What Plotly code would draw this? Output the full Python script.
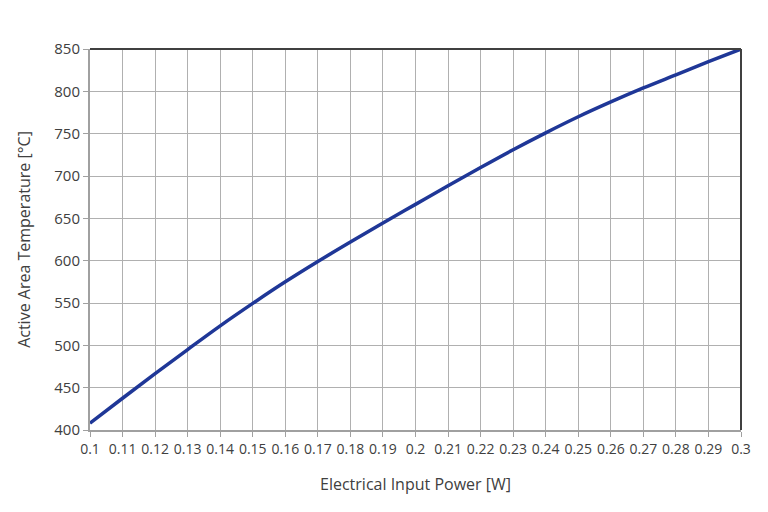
import plotly.graph_objects as go

power_w = [0.10, 0.11, 0.12, 0.13, 0.14, 0.15, 0.16, 0.17, 0.18, 0.19, 0.20,
           0.21, 0.22, 0.23, 0.24, 0.25, 0.26, 0.27, 0.28, 0.29, 0.30]
temp_c = [408, 437.5, 466.5, 495, 523, 549.5, 575, 599, 622, 644.5, 666.5,
          688.5, 710, 731, 751, 770, 787.5, 804, 819.5, 835, 850]
x_ticks = [round(0.1 + 0.01 * i, 2) for i in range(21)]
x_labels = ['0.1', '0.11', '0.12', '0.13', '0.14', '0.15', '0.16', '0.17', '0.18', '0.19', '0.2',
            '0.21', '0.22', '0.23', '0.24', '0.25', '0.26', '0.27', '0.28', '0.29', '0.3']
y_ticks = [400, 450, 500, 550, 600, 650, 700, 750, 800, 850]

font = 'Open Sans, Noto Sans, sans-serif'

fig = go.Figure()
fig.add_trace(go.Scatter(x=power_w, y=temp_c, mode='lines',
                         line=dict(color='#1f3797', width=3.5, shape='spline'),
                         showlegend=False, cliponaxis=False))

fig.update_layout(
    width=768, height=512,
    margin=dict(l=82, r=35, t=41, b=90),
    paper_bgcolor='white', plot_bgcolor='white',
    font=dict(family=font, size=13, color='#404040'),
)
fig.update_xaxes(
    range=[0.1, 0.3], tickvals=x_ticks, ticktext=x_labels,
    showgrid=True, gridcolor='#b0b0b0', gridwidth=1,
    showline=True, linecolor='#a0a0a0', linewidth=2, mirror=False,
    ticks='outside', ticklen=5, tickcolor='#a0a0a0',
    tickfont=dict(size=14), zeroline=False,
    title=dict(text='Electrical Input Power [W]', font=dict(size=16), standoff=22),
)
fig.update_yaxes(
    range=[400, 850], tickvals=y_ticks,
    showgrid=True, gridcolor='#b0b0b0', gridwidth=1,
    showline=True, linecolor='#a0a0a0', linewidth=2, mirror=False,
    ticks='outside', ticklen=5, tickcolor='#a0a0a0',
    tickfont=dict(size=15), zeroline=False,
    title=dict(text='Active Area Temperature [°C]', font=dict(size=16), standoff=20),
)
# darker frame on top and right
fig.add_shape(type='line', xref='paper', yref='paper', x0=0, x1=1, y0=1, y1=1,
              line=dict(color='#404040', width=2))
fig.add_shape(type='line', xref='paper', yref='paper', x0=1, x1=1, y0=0, y1=1,
              line=dict(color='#404040', width=2))

fig.write_html('out.html')
